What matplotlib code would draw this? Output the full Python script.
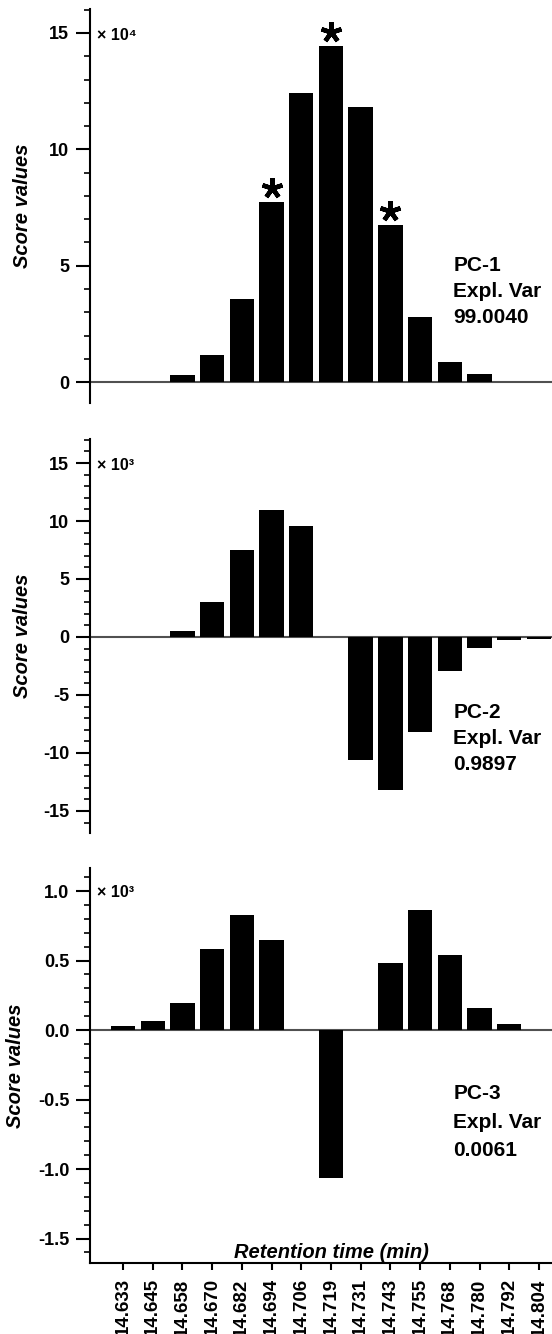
import matplotlib
matplotlib.use('Agg')
import matplotlib.pyplot as plt
from matplotlib.ticker import MultipleLocator, FuncFormatter
from matplotlib.transforms import offset_copy

# retention times (x categories)
times = ['14.633', '14.645', '14.658', '14.670', '14.682', '14.694', '14.706', '14.719',
         '14.731', '14.743', '14.755', '14.768', '14.780', '14.792', '14.804']

# score values per principal component (in units of the axis multiplier)
pc1 = [0, 0, 0.3, 1.16, 3.56, 7.72, 12.4, 14.46, 11.8, 6.74, 2.79, 0.86, 0.34, 0, 0]
pc2 = [0, 0, 0.52, 3.0, 7.5, 10.95, 9.57, 0, -10.6, -13.2, -8.2, -2.9, -0.95, -0.3, -0.15]
pc3 = [0.03, 0.065, 0.195, 0.583, 0.827, 0.647, 0, -1.065, 0, 0.482, 0.863, 0.54, 0.158, 0.043, 0]

pc_names = ['PC-1', 'PC-2', 'PC-3']
expl_var = ['99.0040', '0.9897', '0.0061']
multipliers = ['× 10⁴', '× 10³', '× 10³']
starred = ['14.694', '14.719', '14.743']   # marked bars in PC-1

plt.rcParams['font.family'] = ['Liberation Sans', 'DejaVu Sans']
plt.rcParams['font.weight'] = 'bold'
plt.rcParams['axes.unicode_minus'] = False

W, H = 552, 1334
fig = plt.figure(figsize=(W / 100, H / 100), dpi=100)

# panel layout in pixels: (top, bottom), y limits, major / minor steps, text positions
panels = [
    dict(vals=pc1, box=(9, 403), ylim=(-0.9, 16.03), major=5, minor=1, fmt='%d',
         txt_y=(0.334, 0.269, 0.204), mult_y=0.934, lab_x=-0.125),
    dict(vals=pc2, box=(439, 833), ylim=(-16.9, 17.07), major=5, minor=1, fmt='%d',
         txt_y=(0.293, 0.225, 0.159), mult_y=0.934, lab_x=-0.125),
    dict(vals=pc3, box=(868, 1263), ylim=(-1.676, 1.166), major=0.5, minor=0.1, fmt='%.1f',
         txt_y=(0.414, 0.341, 0.272), mult_y=0.939, lab_x=-0.14),
]

x = list(range(len(times)))
left = 90

for k, p in enumerate(panels):
    top, bot = p['box']
    ax = fig.add_axes([left / W, 1 - bot / H, (W - left) / W, (bot - top) / H])
    ax.bar(x, p['vals'], width=0.82, color='black', linewidth=0, zorder=3)
    ax.axhline(0, color='#505050', lw=1.5, zorder=2)

    ax.set_xlim(-1.11, 14.44)
    ax.set_ylim(*p['ylim'])
    ax.spines['top'].set_visible(False)
    ax.spines['right'].set_visible(False)
    ax.spines['left'].set_linewidth(1.5)

    ax.yaxis.set_major_locator(MultipleLocator(p['major']))
    ax.yaxis.set_minor_locator(MultipleLocator(p['minor']))
    fmt = p['fmt']
    ax.yaxis.set_major_formatter(FuncFormatter(lambda v, pos, f=fmt: f % (round(v, 1) + 0)))
    ax.tick_params(axis='y', which='major', length=10, width=1.5, labelsize=13, pad=5)
    ax.tick_params(axis='y', which='minor', length=4.5, width=1.2)

    if k < 2:
        ax.spines['bottom'].set_visible(False)
        ax.tick_params(axis='x', bottom=False, labelbottom=False)
    else:
        ax.spines['bottom'].set_linewidth(1.5)
        ax.set_xticks(x, times, rotation=90)
        ax.tick_params(axis='x', length=5, width=1.5, labelsize=13.5, pad=6)
        ax.text(0.522, 0.0127, 'Retention time (min)', transform=ax.transAxes,
                ha='center', va='baseline', style='italic', fontsize=14.5)

    ax.set_ylabel('Score values', fontsize=14.5, style='italic', fontweight='bold')
    ax.yaxis.set_label_coords(p['lab_x'], 0.5)

    ax.text(0.016, p['mult_y'], multipliers[k], transform=ax.transAxes,
            fontsize=11.5, va='center')
    for line, ty in zip([pc_names[k], 'Expl. Var', expl_var[k]], p['txt_y']):
        ax.text(0.786, ty, line, transform=ax.transAxes, fontsize=15, va='baseline')

    if k == 0:
        idx = [times.index(t) for t in starred]
        trans = offset_copy(ax.transData, fig=fig, x=0, y=14, units='dots')
        ax.plot(idx, [p['vals'][i] for i in idx], ls='none', marker=(5, 2, 0), ms=15,
                mew=3.2, color='black', transform=trans, clip_on=False, zorder=4)

fig.savefig('out.png', dpi=100)
